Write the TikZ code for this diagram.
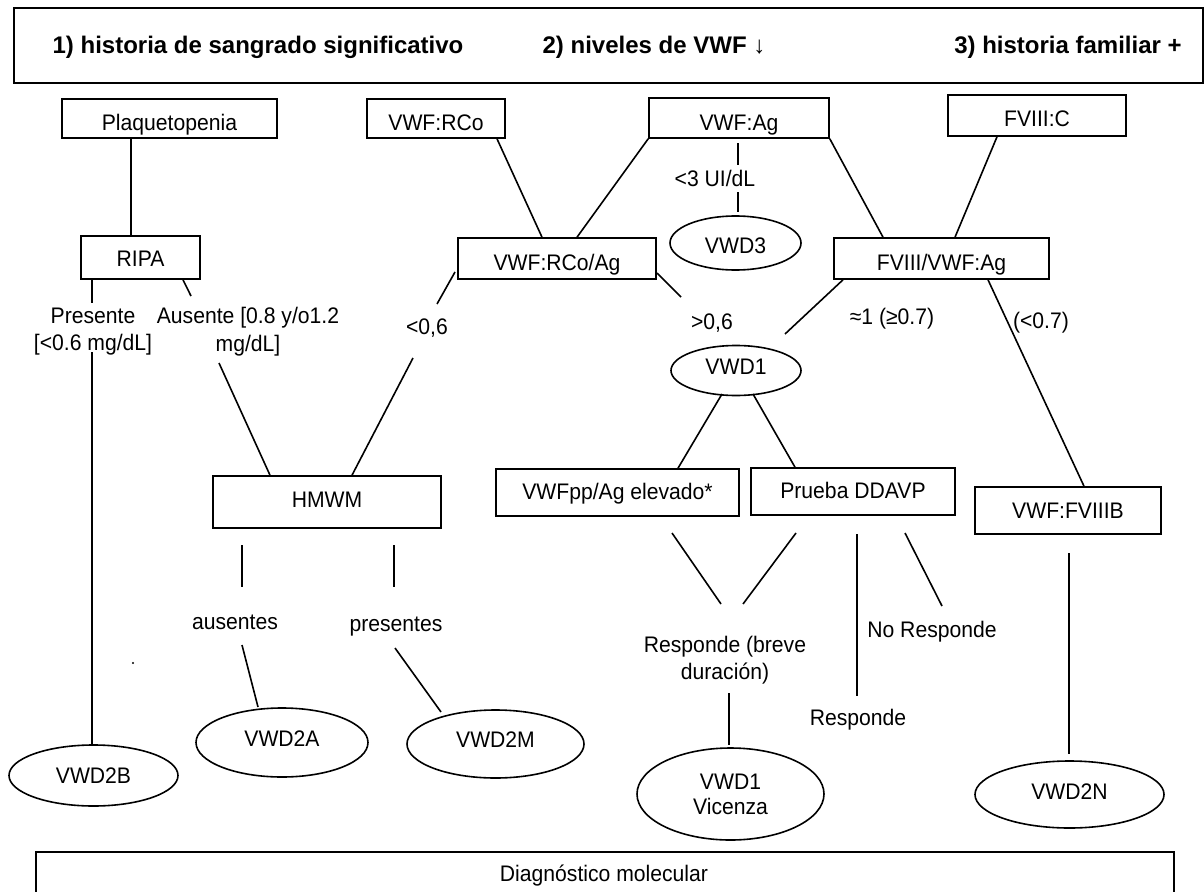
\documentclass[tikz,border=0pt]{standalone}
\usepackage{fontspec}
\setmainfont{Liberation Sans}[FakeStretch=0.94]
\newfontfamily\headfont{Liberation Sans}
\usetikzlibrary{shapes.geometric,calc}

\tikzset{
  box/.style={draw, rectangle, inner sep=0pt, line width=1.6pt},
  oval/.style={draw, ellipse, inner sep=0pt, line width=1.6pt},
  th/.style={text height=#1, text depth=0pt},
  lbl/.style={inner sep=0pt, text height=16.1pt, text depth=0pt},
  lbltwo/.style={inner sep=0pt, align=center},
  head/.style={inner sep=0pt, text height=17.2pt, text depth=0pt,
               font=\headfont\bfseries\fontsize{24}{28}\selectfont},
  link/.style={line width=1.6pt},
}

\begin{document}
\begin{tikzpicture}[x=1pt, y=-1pt, font=\fontsize{22.5}{27.5}\selectfont]
\useasboundingbox (0,0) rectangle (1204,891);
\clip (0,0) rectangle (1204,891);

% criteria banner
\node[box, minimum width=1189pt, minimum height=75pt] (banner) at (608.5,45.5) {};
\node[head] (crit1) at (258,45) {1) historia de sangrado significativo};
\node[head] (crit2) at (654,45) {2) niveles de VWF ↓};
\node[head] (crit3) at (1068,45) {3) historia familiar +};

% first-level tests
\node[box, th=24.1pt, minimum width=215pt, minimum height=39pt] (plaq) at (169.5,118.5) {Plaquetopenia};
\node[box, th=24.1pt, minimum width=138pt, minimum height=39pt] (rco) at (436,118.5) {VWF:RCo};
\node[box, th=24.1pt, minimum width=180pt, minimum height=40pt] (ag) at (739,118) {VWF:Ag};
\node[box, th=22.1pt, minimum width=178pt, minimum height=41pt] (fviiic) at (1037,115.5) {FVIII:C};

% ratios and secondary tests
\node[box, th=18.1pt, minimum width=119pt, minimum height=43pt] (ripa) at (140.5,257.5) {RIPA};
\node[box, th=24.1pt, minimum width=198pt, minimum height=41pt] (rcoag) at (557,258.5) {VWF:RCo/Ag};
\node[box, th=24.1pt, minimum width=215pt, minimum height=41pt] (fviiiag) at (941.5,258.5) {FVIII/VWF:Ag};
\node[oval, th=20.1pt, minimum width=131pt, minimum height=54pt] (vwd3) at (735.5,243) {VWD3};
\node[oval, th=8.1pt, minimum width=130pt, minimum height=50pt] (vwd1) at (736,370.5) {VWD1};

\node[box, th=10.1pt, minimum width=228pt, minimum height=52pt] (hmwm) at (327,502) {HMWM};
\node[box, th=14.1pt, minimum width=243pt, minimum height=47pt] (pp) at (617.5,492.5) {VWFpp/Ag elevado*};
\node[box, th=14.1pt, minimum width=204pt, minimum height=47pt] (ddavp) at (853,491.5) {Prueba DDAVP};
\node[box, th=16.1pt, minimum width=186pt, minimum height=47pt] (fviiib) at (1068,510.5) {VWF:FVIIIB};

% final types
\node[oval, th=16.1pt, minimum width=169pt, minimum height=61pt] (vwd2b) at (93.5,775.5) {VWD2B};
\node[oval, th=8.1pt, minimum width=172pt, minimum height=69pt] (vwd2a) at (282,742.5) {VWD2A};
\node[oval, th=6.1pt, minimum width=177pt, minimum height=68pt] (vwd2m) at (495.5,744) {VWD2M};
\node[oval, minimum width=187pt, minimum height=92pt, align=center, font=\fontsize{22.5}{25}\selectfont] (vicenza) at (730.5,794) {VWD1\\Vicenza};
\node[oval, th=10.1pt, minimum width=189pt, minimum height=67pt] (vwd2n) at (1069.5,794.5) {VWD2N};

% molecular diagnosis banner
\node[box, minimum width=1138pt, minimum height=70pt, anchor=north west] (mol) at (35,851) {};
\node[lbl] (moltxt) at (604,873) {Diagnóstico molecular};

% branch labels
\node[lbltwo] (presente) at (93,331.5) {Presente\\{[}<0.6 mg/dL{]}};
\node[lbltwo] (ausente) at (248,331.5) {Ausente {[}0.8 y/o1.2\\mg/dL{]}};
\node[lbl] (lt06) at (427,326) {<0,6};
\node[lbl] (gt06) at (712,321) {>0,6};
\node[lbl] (lt3) at (715,178.5) {<3 UI/dL};
\node[lbl] (approx) at (892,316.5) {≈1 (≥0.7)};
\node[lbl] (lt07) at (1041,320) {(<0.7)};
\node[lbl] (ausentes) at (235,621) {ausentes};
\node[lbl] (presentes) at (396,623) {presentes};
\node[lbltwo] (breve) at (725,660) {Responde (breve\\duración)};
\node[lbl] (noresp) at (932,629.5) {No Responde};
\node[lbl] (resp) at (858,717.5) {Responde};

% free ends of the short connectors
\coordinate (pA) at (92,303);
\coordinate (pB) at (191,296);
\coordinate (pC) at (92,352);
\coordinate (pD) at (219,363);
\coordinate (pE1) at (455,272);
\coordinate (pE2) at (437,304);
\coordinate (pF) at (413,358);
\coordinate (pG1) at (738,143);
\coordinate (pG2) at (738,165);
\coordinate (pG3) at (738,192);
\coordinate (pG4) at (738,212);
\coordinate (pH1) at (657,273);
\coordinate (pH2) at (681,297);
\coordinate (pI) at (785,334);
\coordinate (pJ1) at (722,394);
\coordinate (pJ2) at (753,394);
\coordinate (pK1) at (672,533);
\coordinate (pK2) at (721,604);
\coordinate (pK3) at (796,533);
\coordinate (pK4) at (743,604);
\coordinate (pL1) at (729,693);
\coordinate (pL2) at (729,745);
\coordinate (pM1) at (857,534);
\coordinate (pM2) at (857,696);
\coordinate (pN1) at (905,533);
\coordinate (pN2) at (942,606);
\coordinate (pO1) at (1069,553);
\coordinate (pO2) at (1069,754);
\coordinate (pQ1) at (242,545);
\coordinate (pQ2) at (242,587);
\coordinate (pR1) at (394,545);
\coordinate (pR2) at (394,587);
\coordinate (pS1) at (242,645);
\coordinate (pS2) at (258,707);
\coordinate (pT1) at (395,648);
\coordinate (pT2) at (441,712);

% connectors
\draw[link] (plaq.south -| 131,0) -- (ripa.north -| 131,0);
\draw[link] (ripa.south -| 92,0) -- (pA);
\draw[link] (ripa.south -| 183,0) -- (pB);
\draw[link] (pC) -- (vwd2b.north -| 92,0);
\draw[link] (pD) -- (hmwm.north -| 270,0);
\draw[link] (pE1) -- (pE2);
\draw[link] (pF) -- (hmwm.north -| 352,0);
\draw[link] (rco.south -| 497,0) -- (rcoag.north -| 542,0);
\draw[link] (ag.south west) -- (rcoag.north -| 577,0);
\draw[link] (ag.south east) -- (fviiiag.north -| 883,0);
\draw[link] (pG1) -- (pG2);
\draw[link] (pG3) -- (pG4);
\draw[link] (pH1) -- (pH2);
\draw[link] (fviiic.south -| 997,0) -- (fviiiag.north -| 955,0);
\draw[link] (fviiiag.south -| 843,0) -- (pI);
\draw[link] (fviiiag.south -| 988,0) -- (fviiib.north -| 1084,0);
\draw[link] (pJ1) -- (pp.north -| 678,0);
\draw[link] (pJ2) -- (ddavp.north -| 795,0);
\draw[link] (pK1) -- (pK2);
\draw[link] (pK3) -- (pK4);
\draw[link] (pL1) -- (pL2);
\draw[link] (pM1) -- (pM2);
\draw[link] (pN1) -- (pN2);
\draw[link] (pO1) -- (pO2);
\draw[link] (pQ1) -- (pQ2);
\draw[link] (pR1) -- (pR2);
\draw[link] (pS1) -- (pS2);
\draw[link] (pT1) -- (pT2);

% stray dot
\fill (133,663) circle (1.2pt);
\end{tikzpicture}
\end{document}
